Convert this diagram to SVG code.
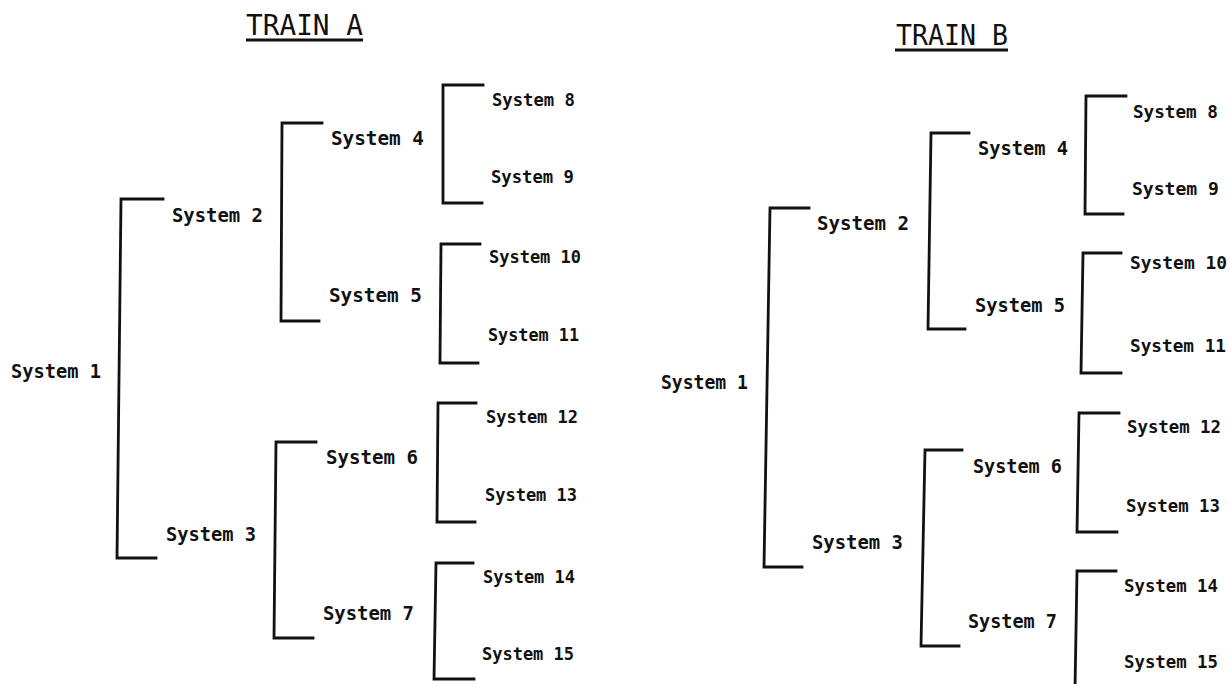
<svg xmlns="http://www.w3.org/2000/svg" width="1230" height="684" viewBox="0 0 1230 684">
<style>
.bg{fill:#ffffff}
.title{font-family:"DejaVu Sans Mono","Liberation Mono",monospace;font-size:29px;fill:#111}
.ul{stroke:#111;stroke-width:2.8;fill:none}
.l1{font-family:"DejaVu Sans Mono","Liberation Mono",monospace;font-size:19.5px;font-weight:bold;fill:#111}
.l2{font-family:"DejaVu Sans Mono","Liberation Mono",monospace;font-size:17px;font-weight:bold;fill:#111}
.br{stroke:#111;stroke-width:2.8;fill:none;stroke-linejoin:miter;stroke-linecap:square}
</style>
<rect class="bg" x="0" y="0" width="1230" height="684"/>

<g id="title-a">
<text class="title" x="246" y="35" textLength="117" lengthAdjust="spacingAndGlyphs">TRAIN A</text>
<line class="ul" x1="246" y1="40" x2="363" y2="40"/>
</g>
<g id="title-b">
<text class="title" x="896" y="45" textLength="112" lengthAdjust="spacingAndGlyphs">TRAIN B</text>
<line class="ul" x1="895" y1="50" x2="1008" y2="50"/>
</g>

<g id="connectors">
<!-- Train A -->
<path class="br" d="M163,199 H121 L117,558 H156"/>
<path class="br" d="M322,123 H282 L281,321 H319"/>
<path class="br" d="M316,442 H276 L274,638 H313"/>
<path class="br" d="M483,85 H443 V203 H482"/>
<path class="br" d="M480,244 H441 L440,363 H478"/>
<path class="br" d="M476,403 H438 L437,522 H475"/>
<path class="br" d="M473,563 H436 L434,679 H474"/>
<!-- Train B -->
<path class="br" d="M809,208 H770 L764,567 H802"/>
<path class="br" d="M969,133 H931 L928,329 H965"/>
<path class="br" d="M962,450 H925 L921,646 H959"/>
<path class="br" d="M1126,96 H1086 L1085,214 H1123"/>
<path class="br" d="M1121,253 H1083 L1081,373 H1121"/>
<path class="br" d="M1119,413 H1079 L1077,532 H1117"/>
<path class="br" d="M1116,571 H1077 L1075,690"/>
</g>

<!-- Train A nodes -->
<g id="a-system-1"><text class="l1" x="11" y="378" textLength="90" lengthAdjust="spacingAndGlyphs">System 1</text></g>
<g id="a-system-2"><text class="l1" x="172" y="222" textLength="91" lengthAdjust="spacingAndGlyphs">System 2</text></g>
<g id="a-system-3"><text class="l1" x="166" y="541" textLength="90" lengthAdjust="spacingAndGlyphs">System 3</text></g>
<g id="a-system-4"><text class="l1" x="331" y="145" textLength="93" lengthAdjust="spacingAndGlyphs">System 4</text></g>
<g id="a-system-5"><text class="l1" x="329" y="302" textLength="93" lengthAdjust="spacingAndGlyphs">System 5</text></g>
<g id="a-system-6"><text class="l1" x="326" y="464" textLength="92" lengthAdjust="spacingAndGlyphs">System 6</text></g>
<g id="a-system-7"><text class="l1" x="323" y="620" textLength="91" lengthAdjust="spacingAndGlyphs">System 7</text></g>
<g id="a-system-8"><text class="l2" x="492" y="106" textLength="83" lengthAdjust="spacingAndGlyphs">System 8</text></g>
<g id="a-system-9"><text class="l2" x="491" y="183" textLength="83" lengthAdjust="spacingAndGlyphs">System 9</text></g>
<g id="a-system-10"><text class="l2" x="489" y="263" textLength="92" lengthAdjust="spacingAndGlyphs">System 10</text></g>
<g id="a-system-11"><text class="l2" x="488" y="341" textLength="91" lengthAdjust="spacingAndGlyphs">System 11</text></g>
<g id="a-system-12"><text class="l2" x="486" y="423" textLength="92" lengthAdjust="spacingAndGlyphs">System 12</text></g>
<g id="a-system-13"><text class="l2" x="485" y="501" textLength="92" lengthAdjust="spacingAndGlyphs">System 13</text></g>
<g id="a-system-14"><text class="l2" x="483" y="583" textLength="92" lengthAdjust="spacingAndGlyphs">System 14</text></g>
<g id="a-system-15"><text class="l2" x="482" y="660" textLength="92" lengthAdjust="spacingAndGlyphs">System 15</text></g>

<!-- Train B nodes -->
<g id="b-system-1"><text class="l1" x="661" y="389" textLength="87" lengthAdjust="spacingAndGlyphs">System 1</text></g>
<g id="b-system-2"><text class="l1" x="817" y="230" textLength="92" lengthAdjust="spacingAndGlyphs">System 2</text></g>
<g id="b-system-3"><text class="l1" x="812" y="549" textLength="91" lengthAdjust="spacingAndGlyphs">System 3</text></g>
<g id="b-system-4"><text class="l1" x="978" y="155" textLength="90" lengthAdjust="spacingAndGlyphs">System 4</text></g>
<g id="b-system-5"><text class="l1" x="975" y="312" textLength="90" lengthAdjust="spacingAndGlyphs">System 5</text></g>
<g id="b-system-6"><text class="l1" x="973" y="473" textLength="89" lengthAdjust="spacingAndGlyphs">System 6</text></g>
<g id="b-system-7"><text class="l1" x="968" y="628" textLength="89" lengthAdjust="spacingAndGlyphs">System 7</text></g>
<g id="b-system-8"><text class="l2" x="1133" y="118" textLength="85" lengthAdjust="spacingAndGlyphs">System 8</text></g>
<g id="b-system-9"><text class="l2" x="1132" y="195" textLength="87" lengthAdjust="spacingAndGlyphs">System 9</text></g>
<g id="b-system-10"><text class="l2" x="1130" y="269" textLength="97" lengthAdjust="spacingAndGlyphs">System 10</text></g>
<g id="b-system-11"><text class="l2" x="1130" y="352" textLength="96" lengthAdjust="spacingAndGlyphs">System 11</text></g>
<g id="b-system-12"><text class="l2" x="1127" y="433" textLength="94" lengthAdjust="spacingAndGlyphs">System 12</text></g>
<g id="b-system-13"><text class="l2" x="1126" y="512" textLength="94" lengthAdjust="spacingAndGlyphs">System 13</text></g>
<g id="b-system-14"><text class="l2" x="1124" y="592" textLength="94" lengthAdjust="spacingAndGlyphs">System 14</text></g>
<g id="b-system-15"><text class="l2" x="1124" y="668" textLength="94" lengthAdjust="spacingAndGlyphs">System 15</text></g>
</svg>
